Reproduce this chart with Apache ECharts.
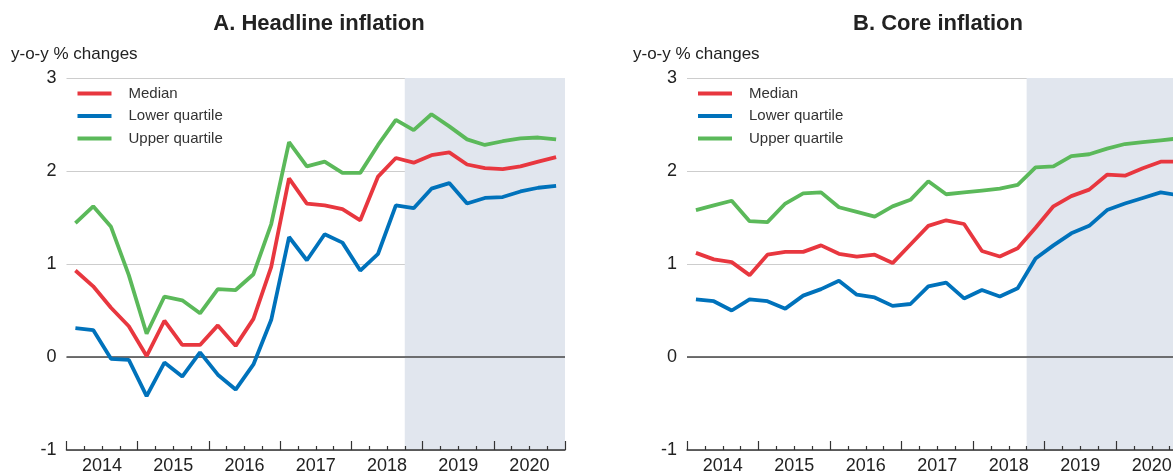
<!DOCTYPE html>
<html>
<head>
<meta charset="utf-8">
<title>Headline and core inflation</title>
<script src="https://cdn.jsdelivr.net/npm/echarts@6/dist/echarts.min.js"></script>
<style>
    html, body { margin: 0; padding: 0; background: #fff; }
    #chart { width: 1173px; height: 471px; }
</style>
</head>
<body>
<div id="chart"></div>
<script>
// 年份标签
var years = ['2014', '2015', '2016', '2017', '2018', '2019', '2020'];
// 季度
var quarters = [];
years.forEach(function (y) {
    for (var q = 1; q <= 4; q++) { quarters.push(y + 'Q' + q); }
});
var forecastFrom = '2018Q4';   // 阴影区开始
var yTicks = [-1, 0, 1, 2, 3];
var seriesNames = ['Median', 'Lower quartile', 'Upper quartile'];

// A. Headline inflation
var headlineMedian = [0.93, 0.76, 0.53, 0.33, 0.01, 0.39, 0.13, 0.13, 0.34, 0.12, 0.41, 0.97, 1.92, 1.65,
    1.63, 1.59, 1.47, 1.94, 2.14, 2.09, 2.17, 2.20, 2.07, 2.03, 2.02, 2.05, 2.10, 2.15];
var headlineLower = [0.31, 0.29, -0.02, -0.03, -0.42, -0.06, -0.21, 0.05, -0.19, -0.35, -0.08, 0.40, 1.29, 1.04,
    1.32, 1.23, 0.93, 1.11, 1.63, 1.60, 1.81, 1.87, 1.65, 1.71, 1.72, 1.78, 1.82, 1.84];
var headlineUpper = [1.44, 1.62, 1.40, 0.88, 0.25, 0.65, 0.61, 0.47, 0.73, 0.72, 0.89, 1.43, 2.31, 2.05,
    2.10, 1.98, 1.98, 2.28, 2.55, 2.44, 2.61, 2.48, 2.34, 2.28, 2.32, 2.35, 2.36, 2.34];

// B. Core inflation
var coreMedian = [1.12, 1.05, 1.02, 0.88, 1.10, 1.13, 1.13, 1.20, 1.11, 1.08, 1.10, 1.01, 1.21, 1.41,
    1.47, 1.43, 1.14, 1.08, 1.17, 1.39, 1.62, 1.73, 1.80, 1.96, 1.95, 2.03, 2.10, 2.10];
var coreLower = [0.62, 0.60, 0.50, 0.62, 0.60, 0.52, 0.66, 0.73, 0.82, 0.67, 0.64, 0.55, 0.57, 0.76,
    0.80, 0.63, 0.72, 0.65, 0.74, 1.06, 1.20, 1.33, 1.41, 1.58, 1.65, 1.71, 1.77, 1.74];
var coreUpper = [1.58, 1.63, 1.68, 1.46, 1.45, 1.65, 1.76, 1.77, 1.61, 1.56, 1.51, 1.62, 1.69, 1.89,
    1.75, 1.77, 1.79, 1.81, 1.85, 2.04, 2.05, 2.16, 2.18, 2.24, 2.29, 2.31, 2.33, 2.35];

var colors = ['#e8373f', '#0072bb', '#5bb95a'];
var font = '"Liberation Sans", Arial, Helvetica, sans-serif';
var textColor = '#222';

// 右图超出画布右边
var panels = [
    {title: 'A. Headline inflation', left: 66.5, width: 498.5, titleX: 314, unitX: 10,
        data: [headlineMedian, headlineLower, headlineUpper]},
    {title: 'B. Core inflation', left: 687, width: 500.5, titleX: 933, unitX: 632,
        data: [coreMedian, coreLower, coreUpper]}
];

// 季度放在每个区间的中点
function toPoints(values) {
    return values.map(function (v, i) { return [i + 0.5, v]; });
}

var option = {
    animation: false,
    backgroundColor: '#fff',
    textStyle: {fontFamily: font},
    title: [],
    legend: [],
    grid: [],
    xAxis: [],
    yAxis: [],
    series: []
};

panels.forEach(function (p, k) {
    option.title.push({
        text: p.title, left: p.titleX, top: 8, textAlign: 'center',
        textStyle: {fontSize: 22, fontWeight: 'bold', color: textColor, fontFamily: font}
    });
    option.title.push({
        text: 'y-o-y % changes', left: p.unitX - 4, top: 41,
        textStyle: {fontSize: 17, fontWeight: 'normal', color: textColor, fontFamily: font}
    });
    option.legend.push({
        data: seriesNames, orient: 'vertical', left: p.left + 6, top: 81,
        icon: 'rect', itemWidth: 34, itemHeight: 4, itemGap: 7.5,
        textStyle: {fontSize: 15, color: '#333', fontFamily: font, padding: [0, 0, 0, 12]}
    });
    option.grid.push({left: p.left, width: p.width, top: 78, height: 372, outerBoundsMode: 'none'});
    // 刻度轴(季度小刻度, 年份大刻度)
    option.xAxis.push({
        type: 'value', gridIndex: k, min: 0, max: quarters.length, interval: 4,
        axisLine: {show: true, onZero: false, lineStyle: {color: '#333', width: 1.5}},
        axisTick: {show: true, inside: true, length: 9, lineStyle: {color: '#333', width: 1.2}},
        minorTick: {show: true, splitNumber: 4, length: 4, lineStyle: {color: '#333', width: 1.2}},
        axisLabel: {show: false},
        splitLine: {show: false}
    });
    // 年份标签
    option.xAxis.push({
        type: 'category', gridIndex: k, position: 'bottom', data: years, boundaryGap: true,
        axisLine: {show: false}, axisTick: {show: false}, splitLine: {show: false},
        axisLabel: {fontSize: 18, color: textColor, margin: 7, interval: 0, fontFamily: font}
    });
    option.yAxis.push({
        type: 'value', gridIndex: k, min: yTicks[0], max: yTicks[yTicks.length - 1], interval: 1,
        axisLine: {show: false}, axisTick: {show: false},
        axisLabel: {fontSize: 18, color: textColor, margin: 10, fontFamily: font},
        splitLine: {show: true, lineStyle: {color: '#cdcdcd', width: 1}}
    });
    // 阴影区和零线
    option.series.push({
        type: 'line', xAxisIndex: k * 2, yAxisIndex: k, data: [], silent: true,
        markArea: {
            silent: true, z: 0,
            itemStyle: {color: '#e1e6ee'},
            data: [[{xAxis: quarters.indexOf(forecastFrom)}, {xAxis: quarters.length}]]
        },
        markLine: {
            silent: true, symbol: 'none', z: 1, label: {show: false},
            lineStyle: {color: '#444', width: 1.5, type: 'solid'},
            data: [{yAxis: 0}]
        }
    });
    p.data.forEach(function (values, j) {
        option.series.push({
            name: seriesNames[j], type: 'line', xAxisIndex: k * 2, yAxisIndex: k,
            data: toPoints(values), showSymbol: false, symbol: 'none', z: 3,
            lineStyle: {color: colors[j], width: 3.8},
            itemStyle: {color: colors[j]}
        });
    });
});

var chart = echarts.init(document.getElementById('chart'));
chart.setOption(option);
</script>
</body>
</html>
